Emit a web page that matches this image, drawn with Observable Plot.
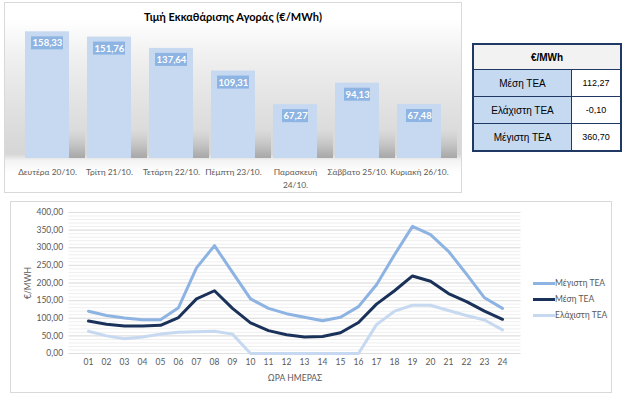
<!DOCTYPE html>
<html><head><meta charset="utf-8">
<script src="https://cdn.jsdelivr.net/npm/d3@7"></script>
<script src="https://cdn.jsdelivr.net/npm/@observablehq/plot@0.6"></script>
<style>
body{margin:0;background:#fff;font-family:Lato,sans-serif;}
#root{position:relative;width:624px;height:398px;overflow:hidden;background:#fff;}
#top{position:absolute;left:4px;top:2px;width:456px;height:189px;border:1px solid #d9d9d9;
 background:linear-gradient(to bottom,#ffffff 0%,#ffffff 9%,#f0f0f0 28%,#e4e4e4 50%,#dadada 70%,#d6d6d6 80%,#f4f4f4 83.5%,#ffffff 90%,#ffffff 100%);}
#top svg{position:absolute;left:0;top:0;}
#title{position:absolute;left:0;right:0;top:7px;text-align:center;font:bold 11px Lato,sans-serif;color:#000;}
#tbl{position:absolute;left:472px;top:43px;width:150px;border-collapse:collapse;border:2px solid #1f3864;font-family:"Liberation Sans",Arial,sans-serif;}
#tbl td,#tbl th{border:1px solid #1f3864;padding:0;text-align:center;}
#tbl th{background:#f2f2f2;height:24px;font-size:10px;font-weight:bold;color:#000;}
#tbl td{height:26px;}
#tbl td.n{background:#c5d9f1;width:97px;font-size:10px;color:#000;}
#tbl td.v{background:#fff;font-size:9px;color:#000;}
#bottom{position:absolute;left:10px;top:201px;width:600px;height:190px;border:1px solid #d9d9d9;background:#fff;}
#bottom svg{position:absolute;left:0;top:0;}
#legend{position:absolute;left:522px;top:73px;font:8.5px Lato,sans-serif;color:#595959;}
#legend .row{height:16px;display:flex;align-items:center;}
#legend .sw{width:22px;height:3px;margin-right:0;}
</style>
</head><body>
<div id="root">
  <div id="top"><div id="title"></div></div>
  <table id="tbl"></table>
  <div id="bottom"><div id="legend"></div></div>
</div>
<script>
// ---- Data ----
const chartTitle = "Τιμή Εκκαθάρισης Αγοράς (€/MWh)";
const days = ["Δευτέρα 20/10.", "Τρίτη 21/10.", "Τετάρτη 22/10.", "Πέμπτη 23/10.", "Παρασκευή 24/10.", "Σάββατο 25/10.", "Κυριακή 26/10."];
const dayPrices = [158.33, 151.76, 137.64, 109.31, 67.27, 94.13, 67.48];

const tableHeader = "€/MWh";
const tableNames = ["Μέση ΤΕΑ", "Ελάχιστη ΤΕΑ", "Μέγιστη ΤΕΑ"];
const tableValues = [112.27, -0.10, 360.70];

const hours = ["01","02","03","04","05","06","07","08","09","10","11","12","13","14","15","16","17","18","19","20","21","22","23","24"];
const maxTEA = [120, 108, 101, 96, 96, 130, 243, 306, 230, 155, 128, 113, 103, 93, 103, 133, 195, 280, 360.7, 337, 290, 225, 158, 128];
const meanTEA = [92, 83, 78, 78, 80, 102, 155, 178, 128, 87, 65, 53, 47, 48, 59, 88, 140, 178, 220, 205, 170, 147, 120, 97];
const minTEA = [63, 50, 42, 47, 55, 60, 62, 63, 55, 0, 0, 0, 0, -0.1, 0, 0, 82, 120, 137, 137, 122, 108, 95, 67];
const seriesNames = ["Μέγιστη ΤΕΑ", "Μέση ΤΕΑ", "Ελάχιστη ΤΕΑ"];
const seriesColors = ["#8db3e2", "#1a3259", "#c6d9f1"];
const yTicks = [0, 50, 100, 150, 200, 250, 300, 350, 400];
const yMinorTicks = d3.range(0, 401, 10);

const barColor = "#c6d9f1";
const labelBoxColor = "#8db4e2";

const fmt = v => v.toFixed(2).replace(".", ",");

// ---- Bar chart ----
document.getElementById("title").textContent = chartTitle;
const barData = days.map((d, i) => ({day: d, price: dayPrices[i], label: fmt(dayPrices[i])}));

const shadowDefs = () => {
  const defs = d3.create("svg:defs");
  const g = defs.append("linearGradient").attr("id", "shadowGrad").attr("x1", 0).attr("y1", 1).attr("x2", 0).attr("y2", 0);
  g.append("stop").attr("offset", 0).attr("stop-color", "#9c9c9c").attr("stop-opacity", 0.85);
  g.append("stop").attr("offset", 1).attr("stop-color", "#c0c0c0").attr("stop-opacity", 0);
  return defs.node();
};

const bar = Plot.plot({
  width: 456, height: 189,
  marginLeft: 10, marginRight: 10, marginTop: 19, marginBottom: 34,
  style: {background: "transparent", fontFamily: "Lato, sans-serif", fontSize: "8.4px", color: "#595959", overflow: "visible"},
  x: {domain: days, paddingInner: 0.29, paddingOuter: 0.145, label: null, axis: null},
  y: {domain: [0, 170], axis: null},
  marks: [
    shadowDefs,
    Plot.barY(barData, {x: "day", y1: 0, y2: d => Math.min(d.price, 36), dx: 16, fill: "url(#shadowGrad)"}),
    Plot.barY(barData, {x: "day", y: "price", fill: barColor}),
    Plot.barY(barData, {filter: d => d.label.length > 5, x: "day", y1: "price", y2: "price", insetLeft: 6, insetRight: 6, insetTop: 5, insetBottom: -18, fill: labelBoxColor}),
    Plot.barY(barData, {filter: d => d.label.length <= 5, x: "day", y1: "price", y2: "price", insetLeft: 9, insetRight: 9, insetTop: 5, insetBottom: -18, fill: labelBoxColor}),
    Plot.text(barData, {x: "day", y: "price", text: "label", dy: 11.5, fill: "white", fontWeight: "bold", fontSize: 9.5}),
    Plot.axisX({tickSize: 0, tickPadding: 8, label: null, lineHeight: 1.5, fill: "#595959",
      tickFormat: d => d.length > 15 ? d.replace(" ", "\n") : d})
  ]
});
document.getElementById("top").appendChild(bar);

// ---- Table ----
const tbl = d3.select("#tbl");
tbl.append("tr").append("th").attr("colspan", 2).text(tableHeader);
tableNames.forEach((n, i) => {
  const tr = tbl.append("tr");
  tr.append("td").attr("class", "n").text(n);
  tr.append("td").attr("class", "v").text(fmt(tableValues[i]));
});

// ---- Line chart ----
const seriesValues = [maxTEA, meanTEA, minTEA];
const lineData = [];
seriesNames.forEach((s, k) => hours.forEach((h, i) => lineData.push({series: s, hour: h, value: seriesValues[k][i]})));

const line = Plot.plot({
  width: 600, height: 190,
  marginLeft: 57.6, marginRight: 90.5, marginTop: 10, marginBottom: 39,
  style: {background: "transparent", fontFamily: "Lato, sans-serif", fontSize: "8.5px", color: "#595959"},
  x: {type: "point", domain: hours, padding: 0.5, label: "ΩΡΑ ΗΜΕΡΑΣ", labelAnchor: "center", labelOffset: 27, tickSize: 0, tickPadding: 5},
  y: {domain: [0, 400], ticks: yTicks, tickFormat: fmt, label: "€/MWH", labelAnchor: "center", labelArrow: false, labelOffset: 44, tickSize: 0, tickPadding: 6},
  color: {domain: seriesNames, range: seriesColors},
  marks: [
    Plot.ruleY(yMinorTicks, {stroke: "#efefef", strokeWidth: 1}),
    Plot.ruleY(yTicks, {stroke: "#dedede", strokeWidth: 1}),
    Plot.line(lineData, {x: "hour", y: "value", z: "series", stroke: "series", strokeWidth: 3, strokeLinejoin: "round"})
  ]
});
document.getElementById("bottom").appendChild(line);

// legend
const lg = d3.select("#legend");
seriesNames.forEach((s, i) => {
  const r = lg.append("div").attr("class", "row");
  r.append("div").attr("class", "sw").style("background", seriesColors[i]);
  r.append("span").text(s);
});
</script>
</body></html>
